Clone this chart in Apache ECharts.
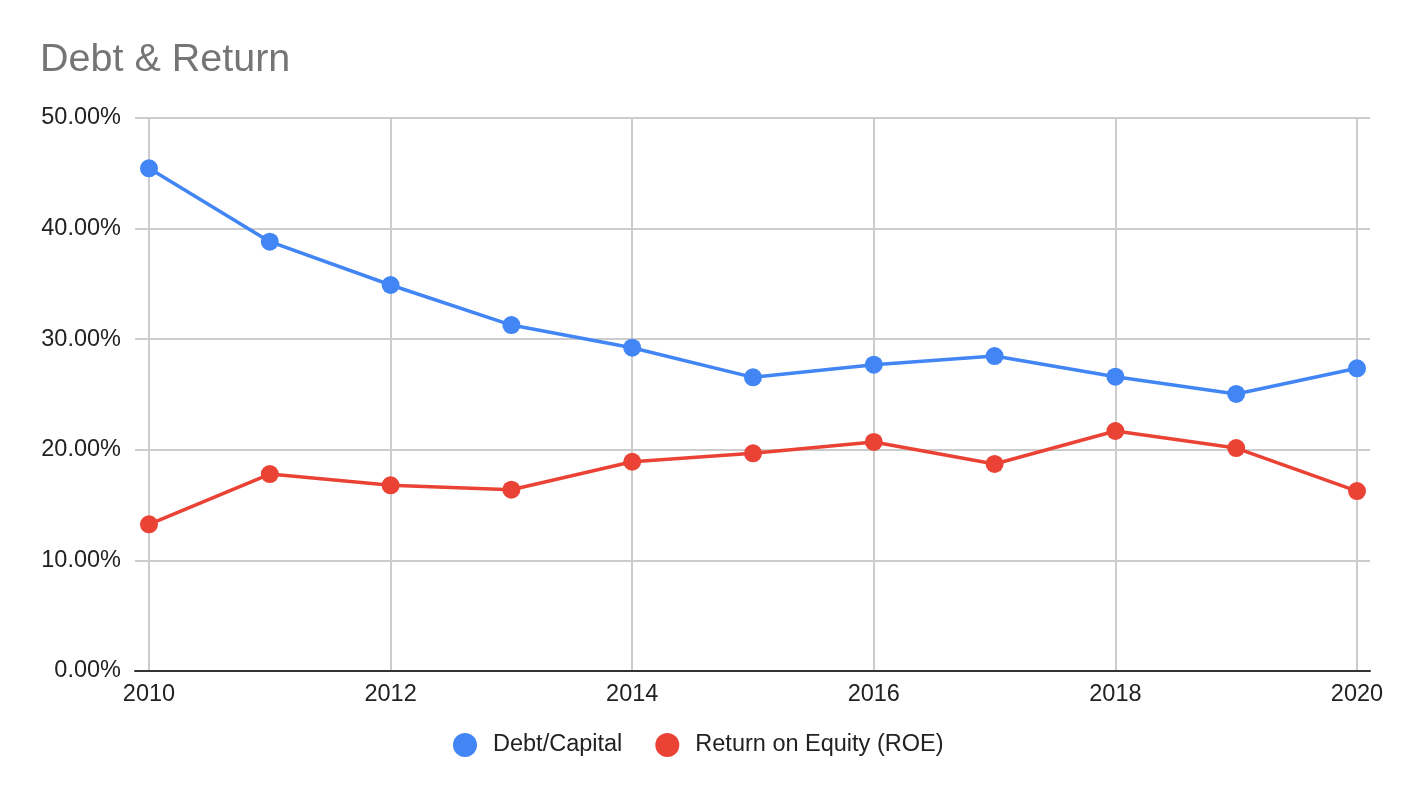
<!DOCTYPE html>
<html>
<head>
<meta charset="utf-8">
<script src="https://cdn.jsdelivr.net/npm/echarts@6/dist/echarts.min.js"></script>
<style>
html,body{margin:0;padding:0;background:#fff;}
#chart{width:1410px;height:798px;}
</style>
</head>
<body>
<div id="chart"></div>
<script>
const years = [2010, 2011, 2012, 2013, 2014, 2015, 2016, 2017, 2018, 2019, 2020];
const debtCapital = [45.45, 38.82, 34.90, 31.28, 29.23, 26.55, 27.70, 28.48, 26.61, 25.05, 27.37];
const roe = [13.26, 17.81, 16.79, 16.39, 18.92, 19.68, 20.71, 18.72, 21.70, 20.16, 16.27];
const seriesNames = ['Debt/Capital', 'Return on Equity (ROE)'];
const titleText = 'Debt & Return';

const FONT = '"Liberation Sans", Arial, sans-serif';
const FS = 23.5;
const chart = echarts.init(document.getElementById('chart'), null, {renderer: 'canvas'});

function pairs(vals) { return years.map((y, i) => [y, vals[i]]); }

chart.setOption({
  backgroundColor: '#ffffff',
  animation: false,
  title: {
    text: titleText,
    left: 40, top: 40, padding: 0,
    textStyle: {fontFamily: FONT, fontSize: 39.5, fontWeight: 'normal', color: '#757575'}
  },
  legend: {
    left: 453, top: 733, padding: 0,
    icon: 'circle',
    itemWidth: 24, itemHeight: 24, itemGap: 33,
    data: seriesNames,
    textStyle: {fontFamily: FONT, fontSize: FS, color: '#222222', padding: [0, 0, 0, 11]}
  },
  grid: [
    {left: 135, right: 40, top: 118, bottom: 127},
    {left: 149, right: 53, top: 118, bottom: 127}
  ],
  xAxis: [
    {
      gridIndex: 0, type: 'value', min: 0, max: 1, z: 5,
      axisLine: {show: true, lineStyle: {color: '#333333', width: 2}},
      axisTick: {show: false}, axisLabel: {show: false}, splitLine: {show: false}
    },
    {
      gridIndex: 1, type: 'value', min: 2010, max: 2020, interval: 2,
      axisLine: {show: false}, axisTick: {show: false},
      axisLabel: {fontFamily: FONT, fontSize: FS, color: '#222222', margin: 12, formatter: v => String(v)},
      splitLine: {show: true, lineStyle: {color: '#cccccc', width: 2}}
    }
  ],
  yAxis: [
    {
      gridIndex: 0, type: 'value', min: 0, max: 50, interval: 10,
      axisLine: {show: false}, axisTick: {show: false},
      axisLabel: {fontFamily: FONT, fontSize: FS, color: '#222222', margin: 14, formatter: v => v.toFixed(2) + '%'},
      splitLine: {show: true, lineStyle: {color: '#cccccc', width: 2}}
    },
    {
      gridIndex: 1, type: 'value', min: 0, max: 50, interval: 10,
      show: false, splitLine: {show: false}
    }
  ],
  series: [
    {
      name: seriesNames[0], type: 'line', xAxisIndex: 1, yAxisIndex: 1,
      data: pairs(debtCapital),
      symbol: 'circle', symbolSize: 18,
      lineStyle: {color: '#4285F4', width: 3.5},
      itemStyle: {color: '#4285F4'},
      z: 3
    },
    {
      name: seriesNames[1], type: 'line', xAxisIndex: 1, yAxisIndex: 1,
      data: pairs(roe),
      symbol: 'circle', symbolSize: 18,
      lineStyle: {color: '#EA4335', width: 3.5},
      itemStyle: {color: '#EA4335'},
      z: 3
    }
  ]
});
</script>
</body>
</html>
